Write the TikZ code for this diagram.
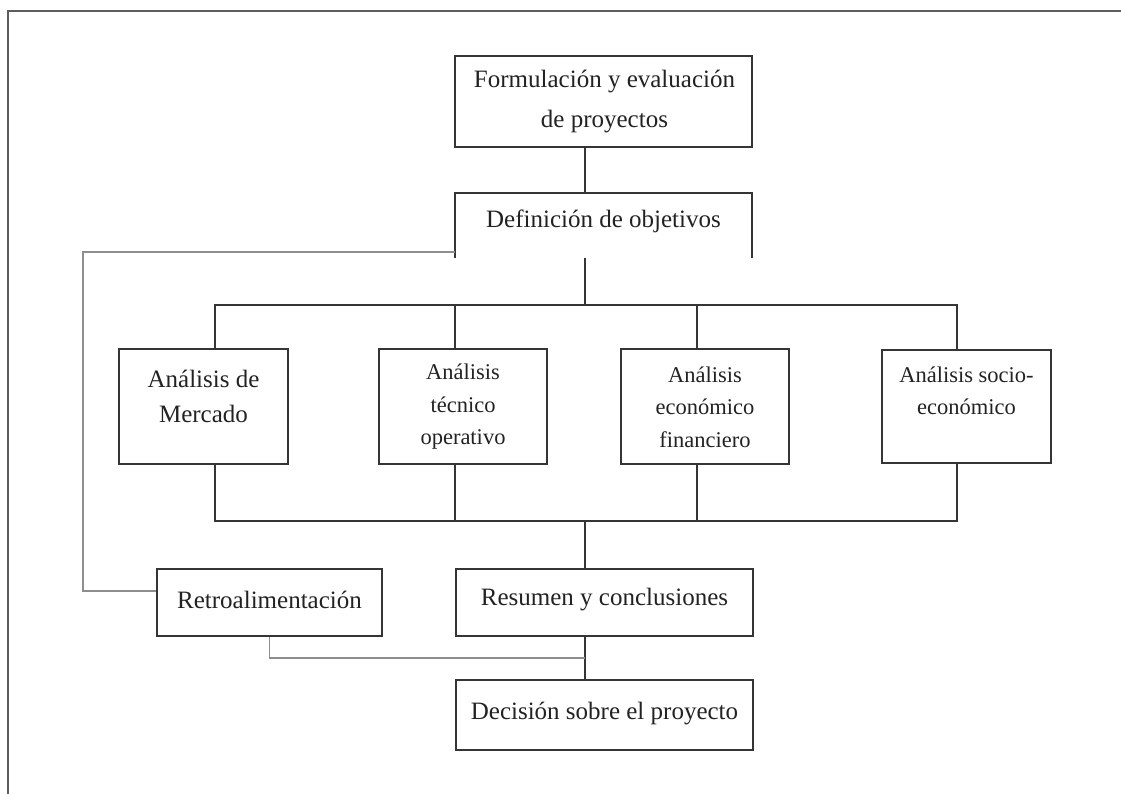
\documentclass[tikz,border=0pt]{standalone}
\usepackage{fontspec}
\setmainfont{Liberation Serif}
\definecolor{ink}{HTML}{222222}
\definecolor{edge}{HTML}{353535}
\definecolor{loop}{HTML}{8E8E8E}
\definecolor{rim}{HTML}{5C5C5C}
\tikzset{
  box/.style={draw=edge, line width=2pt, inner sep=0pt},
  openbox/.style={inner sep=0pt},
  wire/.style={draw=edge, line width=1.8pt},
  fback/.style={draw=loop, line width=1.8pt},
  rim/.style={draw=rim, line width=2.6pt},
  lbl/.style={text=ink, align=center, inner sep=0pt,
    font=\fontsize{25}{40}\selectfont},
  lbltwo/.style={text=ink, align=center, inner sep=0pt,
    font=\fontsize{25}{35}\selectfont},
  lblsm/.style={text=ink, align=center, inner sep=0pt,
    font=\fontsize{22.5}{32.5}\selectfont}
}
\begin{document}
\begin{tikzpicture}[x=1pt, y=-1pt]
\useasboundingbox (0,0) rectangle (1121,794);

% page frame (top and left edges only)
\draw[rim] (8,794) -- (8,11) -- (1121,11);

% boxes
\node[box, minimum width=297pt, minimum height=91pt] (form) at (603.5,101.5) {};
\node[openbox, minimum width=297pt, minimum height=65pt] (def) at (603.5,225.5) {};
\draw[wire] (def.south west) -- (def.north west) -- (def.north east) -- (def.south east);

\node[box, minimum width=169pt, minimum height=115pt] (merc) at (203.5,406.5) {};
\node[box, minimum width=168pt, minimum height=115pt] (tec)  at (463,406.5) {};
\node[box, minimum width=168pt, minimum height=115pt] (fin)  at (705,406.5) {};
\node[box, minimum width=169pt, minimum height=113pt] (soc)  at (966.5,406.5) {};

\node[box, minimum width=225pt, minimum height=67pt] (retro) at (269.5,602.5) {};
\node[box, minimum width=297pt, minimum height=67pt] (res)   at (604.5,602.5) {};
\node[box, minimum width=297pt, minimum height=70pt] (dec)   at (604.5,715) {};

% labels
\node[lbl] (tform) at (604.5,102) {Formulación y evaluación\\de proyectos};
\node[lbl] (tdef) at (603.5,221) {Definición de objetivos};
\node[lbltwo] (tmerc) at (203.5,396) {Análisis de\\Mercado};
\node[lblsm] (ttec) at (463,407) {Análisis\\técnico\\operativo};
\node[lblsm] (tfin) at (705,407) {Análisis\\económico\\financiero};
\node[lblsm] (tsoc) at (966.5,391) {Análisis socio-\\económico};
\node[lbl] (tretro) at (269.5,600) {Retroalimentación};
\node[lbl] (tres) at (604.5,600) {Resumen y conclusiones};
\node[lbl] (tdec) at (604.5,713) {Decisión sobre el proyecto};

% guide coordinates for the connector lines
\coordinate (cx) at (585,0);
\coordinate (d1) at (215,0);
\coordinate (d2) at (455,0);
\coordinate (d3) at (697,0);
\coordinate (d4) at (957,0);
\coordinate (topbus) at (0,305);
\coordinate (lowbus) at (0,521);
\coordinate (fbtop) at (83,252);
\coordinate (fbbot) at (83,591);
\coordinate (fblow) at (0,658);

% main flow
\draw[wire] (form.south -| cx) -- (def.north -| cx);
\draw[wire] (def.south -| cx) -- (topbus -| cx);
\draw[wire] (merc.north -| d1) -- (topbus -| d1) -- (topbus -| d4) -- (soc.north -| d4);
\draw[wire] (topbus -| d2) -- (tec.north -| d2);
\draw[wire] (topbus -| d3) -- (fin.north -| d3);
\draw[wire] (merc.south -| d1) -- (lowbus -| d1) -- (lowbus -| d4) -- (soc.south -| d4);
\draw[wire] (tec.south -| d2) -- (lowbus -| d2);
\draw[wire] (fin.south -| d3) -- (lowbus -| d3);
\draw[wire] (lowbus -| cx) -- (res.north -| cx);
\draw[wire] (res.south -| cx) -- (dec.north -| cx);

% feedback loop
\draw[fback] (def.south west |- fbtop) -- (fbtop) -- (fbbot) -- (retro.west |- fbbot);
\draw[fback] (retro.south) -- (retro.south |- fblow) -- (fblow -| cx);
\end{tikzpicture}
\end{document}
